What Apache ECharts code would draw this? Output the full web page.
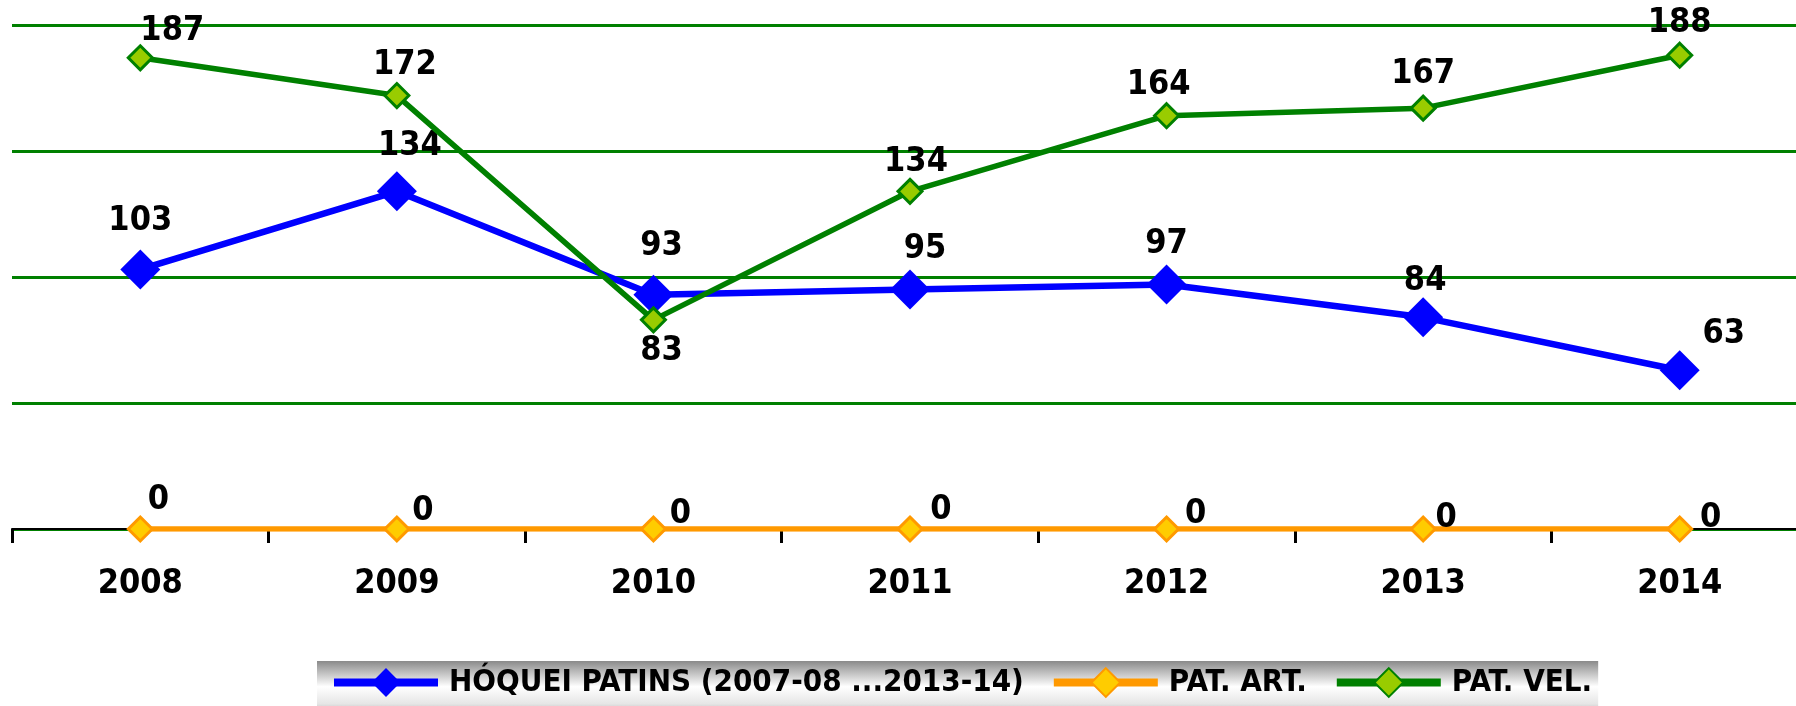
<!DOCTYPE html>
<html>
<head>
<meta charset="utf-8">
<script src="https://cdn.jsdelivr.net/npm/echarts@6/dist/echarts.min.js"></script>
<style>
    html, body { margin: 0; padding: 0; background: #fff; overflow: hidden; }
    .container { width: 1808px; height: 706px; }
</style>
</head>
<body>
<div class="container"></div>
<script>
const years = ['2008', '2009', '2010', '2011', '2012', '2013', '2014'];
const hoquei = [103, 134, 93, 95, 97, 84, 63];
const patArt = [0, 0, 0, 0, 0, 0, 0];
const patVel = [187, 172, 83, 134, 164, 167, 188];
const seriesNames = ['HÓQUEI PATINS (2007-08 ...2013-14)', 'PAT. ART.', 'PAT. VEL.'];

// label nudges, px (style only)
const hoqueiOffsets = [[0, -48], [13, -45], [8, -48], [15, -40], [0, -40], [2, -36], [44, -36]];
const artOffsets = [[18, -29], [26, -18], [27, -15], [31, -19], [29, -15], [23, -11], [31, -11]];
const velOffsets = [[32, -27], [8, -30], [8, 31], [6, -29], [-8, -31], [0, -34], [0, -32]];

(function(){
    // container is a bit wider than the window so the last category runs off the edge
    let myChart = echarts.init(document.querySelector('.container'));
    const font = "'DejaVu Sans Condensed', sans-serif";

    function withOffsets(values, offsets) {
        return values.map((v, i) => ({ value: v, label: { offset: offsets[i] } }));
    }
    const labelStyle = {
        show: true,
        position: 'inside',
        color: '#000',
        fontFamily: font,
        fontWeight: 'bold',
        fontSize: 34
    };

    const option = {
        animation: false,
        legend: {
            left: 317,
            top: 661,
            padding: [6, 6, 20, 13],
            itemGap: 26,
            itemWidth: 104,
            itemHeight: 36,
            backgroundColor: new echarts.graphic.LinearGradient(0, 0, 0, 1, [
                { offset: 0, color: '#8a8a8a' },
                { offset: 0.45, color: '#ffffff' },
                { offset: 0.75, color: '#e6e6e6' },
                { offset: 1, color: '#9a9a9a' }
            ]),
            lineStyle: { width: 8 },
            textStyle: {
                color: '#000',
                fontFamily: font,
                fontWeight: 'bold',
                fontSize: 31,
                padding: [0, 0, 0, 6]
            },
            data: seriesNames
        },
        grid: {
            left: 12,
            right: 0,
            top: 25,
            bottom: 177
        },
        xAxis: {
            type: 'category',
            data: years,
            boundaryGap: true,
            axisLine: {
                lineStyle: { color: '#000', width: 2 }
            },
            axisTick: {
                show: true,
                length: 14,
                lineStyle: { color: '#000', width: 3 }
            },
            axisLabel: {
                color: '#000',
                fontFamily: font,
                fontWeight: 'bold',
                fontSize: 34,
                margin: 38
            }
        },
        yAxis: {
            type: 'value',
            min: 0,
            max: 200,
            interval: 50,
            axisLine: { show: false },
            axisTick: { show: false },
            axisLabel: { show: false },
            splitLine: {
                lineStyle: { color: '#008000', width: 3 }
            }
        },
        series: [
            {
                name: seriesNames[0],
                type: 'line',
                data: withOffsets(hoquei, hoqueiOffsets),
                symbol: 'diamond',
                symbolSize: 40,
                lineStyle: { color: '#0000ff', width: 6.5 },
                itemStyle: { color: '#0000ff' },
                label: labelStyle,
                z: 3
            },
            {
                name: seriesNames[1],
                type: 'line',
                data: withOffsets(patArt, artOffsets),
                symbol: 'diamond',
                symbolSize: 24,
                lineStyle: { color: '#ff9900', width: 5.5 },
                itemStyle: { color: '#ffcc00', borderColor: '#ff9900', borderWidth: 3 },
                label: labelStyle,
                z: 4
            },
            {
                name: seriesNames[2],
                type: 'line',
                data: withOffsets(patVel, velOffsets),
                symbol: 'diamond',
                symbolSize: 24,
                lineStyle: { color: '#008000', width: 5.5 },
                itemStyle: { color: '#99cc00', borderColor: '#008000', borderWidth: 3 },
                label: labelStyle,
                z: 5
            }
        ]
    };

    myChart.setOption(option);
})();
</script>
</body>
</html>
